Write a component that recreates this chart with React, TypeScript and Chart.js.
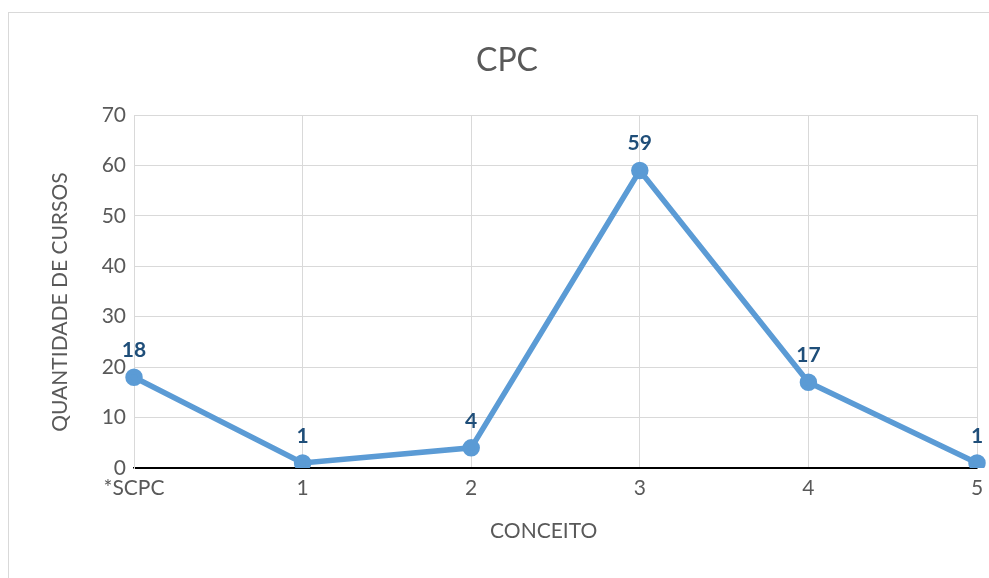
import React, { useEffect, useRef } from "react";
import { Chart, registerables } from "chart.js";

Chart.register(...registerables);

const categories: string[] = ["*SCPC", "1", "2", "3", "4", "5"];
const cursos: number[] = [18, 1, 4, 59, 17, 1];
const chartTitle = "CPC";
const yTitle = "QUANTIDADE DE CURSOS";
const xTitle = "CONCEITO";
const yMin = 0;
const yMax = 70;
const yStep = 10;

const FONT = "Lato, 'Open Sans', sans-serif";
const GREY = "#595959";
const GRID = "#d9d9d9";
const LINE = "#5b9bd5";
const LABEL = "#1f4e79";

const dataLabelPlugin = {
  id: "dataLabels",
  afterDatasetsDraw(chart: any) {
    const ctx = chart.ctx;
    const meta = chart.getDatasetMeta(0);
    const ds = chart.data.datasets[0];
    ctx.save();
    ctx.font = `bold 21px ${FONT}`;
    ctx.fillStyle = LABEL;
    ctx.textAlign = "center";
    ctx.textBaseline = "middle";
    meta.data.forEach((pt: any, i: number) => {
      ctx.fillText(String(ds.data[i]), pt.x, pt.y - 27);
    });
    ctx.restore();
  },
};

// Axis titles, placed relative to the chart area (Excel-style offsets)
const axisTitlePlugin = {
  id: "axisTitles",
  afterDraw(chart: any) {
    const { ctx, chartArea } = chart;
    ctx.save();
    ctx.font = `21px ${FONT}`;
    ctx.fillStyle = GREY;
    ctx.textAlign = "center";
    ctx.textBaseline = "middle";
    ctx.fillText(xTitle, chartArea.left + chartArea.width * 0.486, chartArea.bottom + 63);
    ctx.translate(chartArea.left - 74, chartArea.top + chartArea.height * 0.53);
    ctx.rotate(-Math.PI / 2);
    ctx.fillText(yTitle, 0, 0);
    ctx.restore();
  },
};

export default function App() {
  const ref = useRef<HTMLCanvasElement | null>(null);

  useEffect(() => {
    document.documentElement.style.overflow = "hidden";
    if (!ref.current) return;
    const chart = new Chart(ref.current, {
      type: "line",
      data: {
        labels: categories,
        datasets: [
          {
            data: cursos,
            borderColor: LINE,
            backgroundColor: LINE,
            borderWidth: 5.5,
            pointRadius: 6,
            pointHoverRadius: 6,
            pointBackgroundColor: LINE,
            pointBorderColor: LINE,
            tension: 0,
            fill: false,
          },
        ],
      },
      options: {
        responsive: false,
        animation: false,
        layout: { padding: { left: 28, right: 30, top: 0, bottom: 10 } },
        plugins: {
          legend: { display: false },
          tooltip: { enabled: false },
          title: {
            display: true,
            text: chartTitle,
            color: GREY,
            font: { family: FONT, size: 32, weight: "normal" },
            padding: { top: 28.8, bottom: 34.8 },
          },
        },
        scales: {
          x: {
            offset: false,
            grid: { color: GRID, lineWidth: 1, drawTicks: false },
            border: { color: "#000000", width: 1.5 },
            ticks: {
              color: GREY,
              font: { family: FONT, size: 21 },
              padding: 8,
              maxRotation: 0,
              autoSkip: false,
            },
            afterFit(scale: any) {
              scale.height = 100;
            },
          },
          y: {
            min: yMin,
            max: yMax,
            grid: {
              color: (c: any) => (c.tick && c.tick.value === 0 ? "#000000" : GRID),
              lineWidth: 1,
              drawTicks: false,
            },
            border: { color: GRID, width: 1 },
            ticks: {
              stepSize: yStep,
              color: GREY,
              font: { family: FONT, size: 21 },
              padding: 8,
            },
            afterFit(scale: any) {
              scale.width = 97;
            },
          },
        },
      },
      plugins: [dataLabelPlugin, axisTitlePlugin],
    } as any);
    return () => chart.destroy();
  }, []);

  return (
    <div
      style={{
        position: "fixed",
        left: 8,
        top: 12,
        width: 981,
        height: 566,
        overflow: "hidden",
        borderLeft: `1px solid ${GRID}`,
        borderTop: `1px solid ${GRID}`,
        background: "#ffffff",
      }}
    >
      <canvas
        ref={ref}
        width={998}
        height={565}
        style={{ display: "block", width: 998, height: 565 }}
      />
    </div>
  );
}
